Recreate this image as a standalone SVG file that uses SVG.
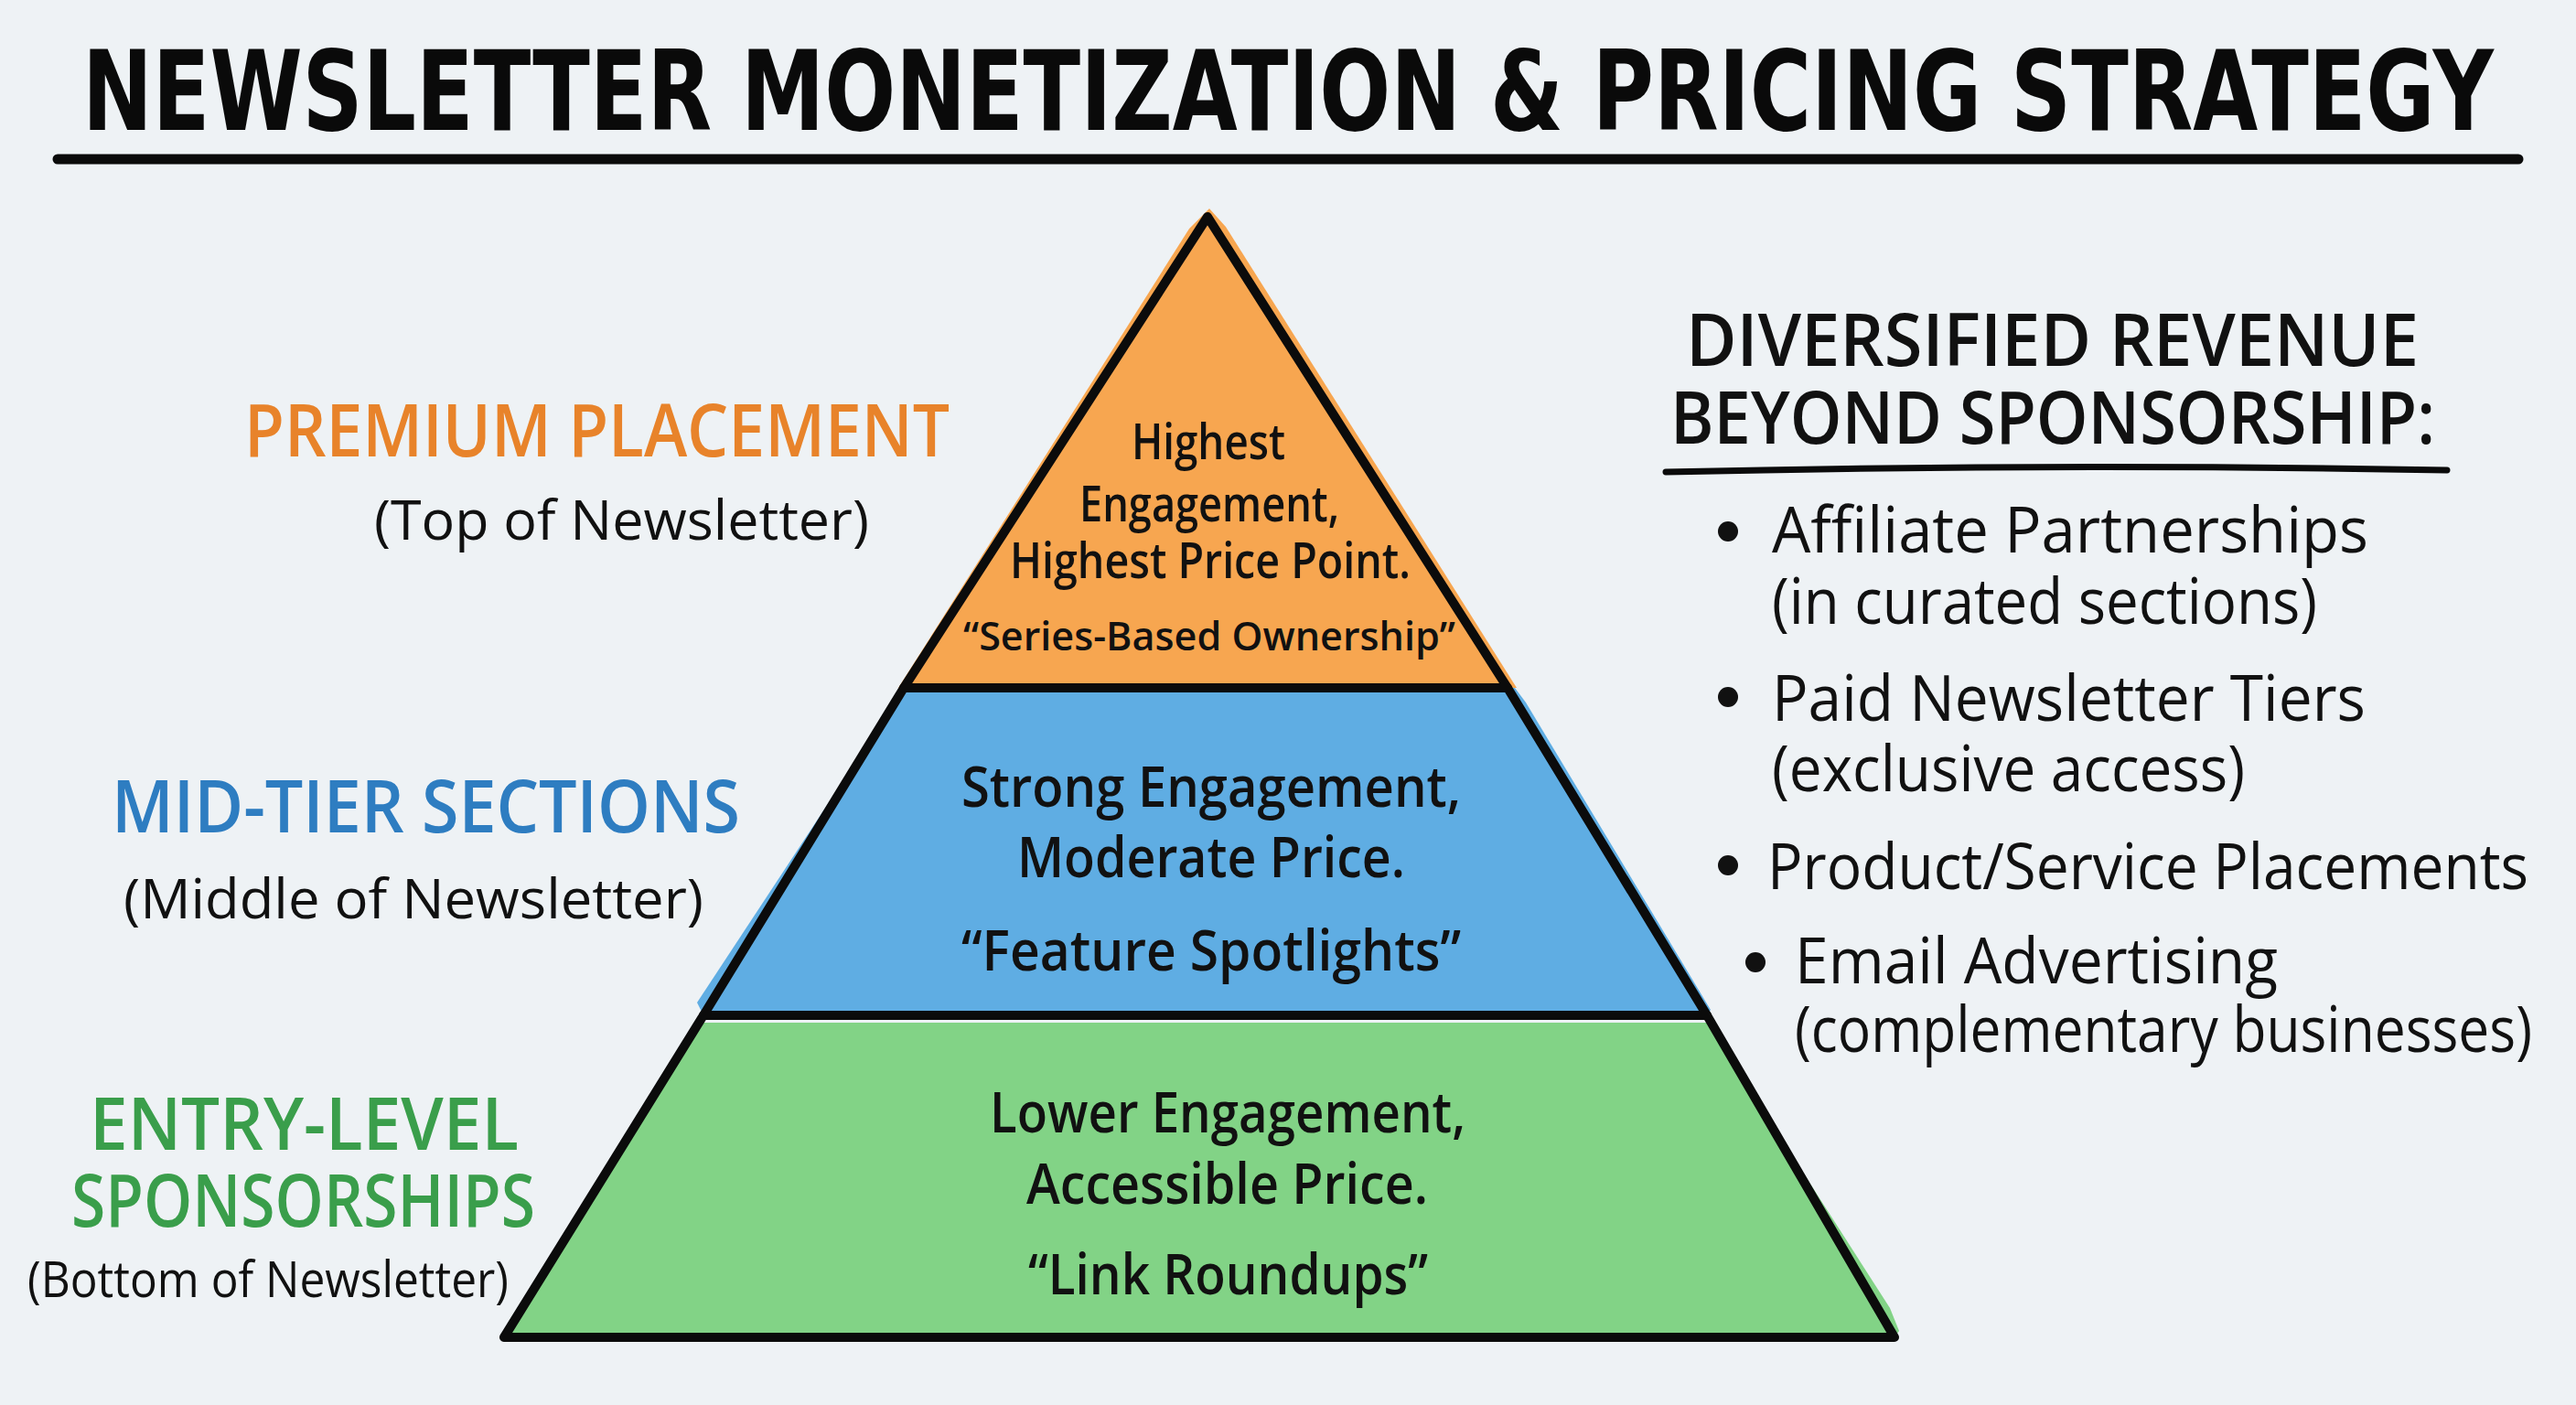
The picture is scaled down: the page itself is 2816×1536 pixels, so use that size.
<svg xmlns="http://www.w3.org/2000/svg" width="2816" height="1536" viewBox="0 0 2816 1536">
<style>
.t{font-family:"Open Sans","Noto Sans","Liberation Sans",sans-serif;fill:#111;}
.title{font-family:"DejaVu Sans","Liberation Sans",sans-serif;font-weight:bold;font-size:122px;fill:#0a0a0a;}
.lbl{font-weight:600;font-size:80px;}
.sub{font-size:60px;font-weight:500;}
.body{font-size:62px;font-weight:600;}
.top{font-size:54px;font-weight:600;}
.hdr{font-size:80px;font-weight:600;}
.item{font-size:70px;font-weight:500;}
.outline{fill:none;stroke:#0b0b0b;stroke-width:10;stroke-linejoin:round;stroke-linecap:round;}
.rule{stroke:#0b0b0b;stroke-linecap:round;fill:none;}
</style>
<rect width="2816" height="1536" fill="#EEF2F5"/>

<g id="title">
<text class="title" x="90" y="142" textLength="2636" lengthAdjust="spacingAndGlyphs">NEWSLETTER MONETIZATION &amp; PRICING STRATEGY</text>
<line class="rule" x1="63" y1="174" x2="2753" y2="174" stroke-width="11"/>
</g>

<g id="pyramid">
<g id="tier-premium">
<polygon points="1322,228 1340,248 1658,752 982,752 1300,250" fill="#F7A650"/>
<text class="t top" x="1237" y="502" textLength="168" lengthAdjust="spacingAndGlyphs">Highest</text>
<text class="t top" x="1180" y="570" textLength="284" lengthAdjust="spacingAndGlyphs">Engagement,</text>
<text class="t top" x="1104" y="632" textLength="438" lengthAdjust="spacingAndGlyphs">Highest Price Point.</text>
<text class="t" x="1053" y="711" font-size="44" font-weight="600" textLength="538" lengthAdjust="spacingAndGlyphs">“Series-Based Ownership”</text>
</g>
<g id="tier-mid">
<polygon points="980,765 990,752 1656,752 1668,768 1870,1104 1866,1110 769,1110 762,1096" fill="#5FADE3"/>
<text class="t body" x="1051" y="882" textLength="546" lengthAdjust="spacingAndGlyphs">Strong Engagement,</text>
<text class="t body" x="1112" y="959" textLength="424" lengthAdjust="spacingAndGlyphs">Moderate Price.</text>
<text class="t body" x="1051" y="1061" textLength="546" lengthAdjust="spacingAndGlyphs">“Feature Spotlights”</text>
</g>
<g id="tier-entry">
<polygon points="769,1118 1866,1118 2066,1430 2076,1455 2071,1462 551,1462 556,1445 760,1125" fill="#82D386"/>
<text class="t body" x="1082" y="1238" textLength="520" lengthAdjust="spacingAndGlyphs">Lower Engagement,</text>
<text class="t body" x="1122" y="1316" textLength="439" lengthAdjust="spacingAndGlyphs">Accessible Price.</text>
<text class="t body" x="1124" y="1415" textLength="437" lengthAdjust="spacingAndGlyphs">“Link Roundups”</text>
</g>
<path class="outline" d="M1320,237 L988,752 L769,1110 L551,1462 L2071,1462 L1866,1110 L1648,752 Z"/>
<path class="outline" d="M988,752 H1648 M769,1110 H1866"/>
</g>

<g id="label-premium">
<text class="t lbl" x="267" y="499" style="fill:#E8832A" textLength="771" lengthAdjust="spacingAndGlyphs">PREMIUM PLACEMENT</text>
<text class="t sub" x="409" y="590" textLength="541" lengthAdjust="spacingAndGlyphs">(Top of Newsletter)</text>
</g>
<g id="label-mid">
<text class="t lbl" x="122" y="910" style="fill:#2E7DC1" textLength="687" lengthAdjust="spacingAndGlyphs">MID-TIER SECTIONS</text>
<text class="t sub" x="135" y="1004" textLength="634" lengthAdjust="spacingAndGlyphs">(Middle of Newsletter)</text>
</g>
<g id="label-entry">
<text class="t lbl" x="98" y="1257" style="fill:#3A9E4B" textLength="469" lengthAdjust="spacingAndGlyphs">ENTRY-LEVEL</text>
<text class="t lbl" x="78" y="1341" style="fill:#3A9E4B" textLength="507" lengthAdjust="spacingAndGlyphs">SPONSORSHIPS</text>
<text class="t" x="30" y="1418" font-size="54" font-weight="500" textLength="526" lengthAdjust="spacingAndGlyphs">(Bottom of Newsletter)</text>
</g>

<g id="revenue">
<text class="t hdr" x="1843" y="400" textLength="801" lengthAdjust="spacingAndGlyphs">DIVERSIFIED REVENUE</text>
<text class="t hdr" x="1826" y="485" textLength="836" lengthAdjust="spacingAndGlyphs">BEYOND SPONSORSHIP:</text>
<path class="rule" d="M1821,516 Q2250,506 2675,514" stroke-width="7"/>
<circle cx="1889" cy="581" r="11" fill="#111"/>
<text class="t item" x="1937" y="604" textLength="652" lengthAdjust="spacingAndGlyphs">Affiliate Partnerships</text>
<text class="t item" x="1937" y="682" textLength="596" lengthAdjust="spacingAndGlyphs">(in curated sections)</text>
<circle cx="1889" cy="762" r="11" fill="#111"/>
<text class="t item" x="1937" y="788" textLength="649" lengthAdjust="spacingAndGlyphs">Paid Newsletter Tiers</text>
<text class="t item" x="1937" y="865" textLength="517" lengthAdjust="spacingAndGlyphs">(exclusive access)</text>
<circle cx="1889" cy="946" r="11" fill="#111"/>
<text class="t item" x="1932" y="972" textLength="832" lengthAdjust="spacingAndGlyphs">Product/Service Placements</text>
<circle cx="1919" cy="1052" r="11" fill="#111"/>
<text class="t item" x="1962" y="1075" textLength="528" lengthAdjust="spacingAndGlyphs">Email Advertising</text>
<text class="t item" x="1962" y="1150" textLength="806" lengthAdjust="spacingAndGlyphs">(complementary businesses)</text>
</g>
<g id="connectors"/>
</svg>
